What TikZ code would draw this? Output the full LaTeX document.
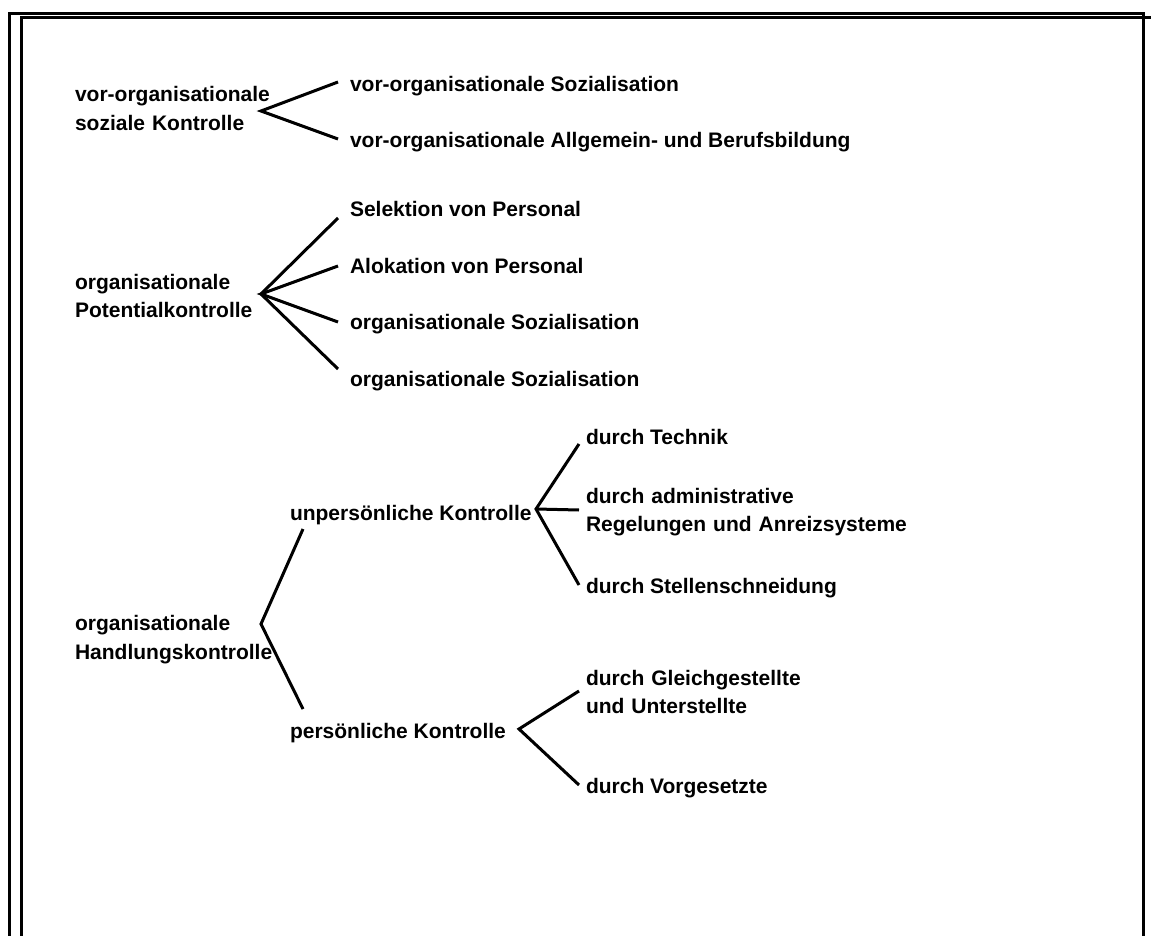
\documentclass[tikz,border=0pt]{standalone}
\usepackage{fontspec}
\setmainfont{Liberation Sans}
\begin{document}
\begin{tikzpicture}[x=1pt, y=-1pt,
  every node/.style={inner sep=0pt, outer sep=0pt},
  lab/.style={anchor=base west, font=\bfseries\fontsize{21}{28.5}\selectfont},
  lab2/.style={lab, text width=420pt, align=left},
  branch/.style={line width=3pt, line join=miter},
  frame/.style={line width=3pt}]
\useasboundingbox (0,0) rectangle (1151,936);
\clip (0,0) rectangle (1151,936);

% double page frame
\draw[frame] (9,940) -- (9,14) -- (1143,14) -- (1143,940);
\draw[frame] (21,940) -- (21,18) -- (1155,18);

% --- vor-organisationale soziale Kontrolle
\node[lab2] (k1) at (75,102) {vor-organisationale\\soziale Kontrolle};
\node[lab] (r1a) at (350,92) {vor-organisationale Sozialisation};
\node[lab] (r1b) at (350,148) {vor-organisationale Allgemein- und Berufsbildung};
\coordinate (v1) at (261,111);
\coordinate (e1a) at (338,82);
\coordinate (e1b) at (338,139);
\draw[branch] (e1a) -- (v1) -- (e1b);

% --- organisationale Potentialkontrolle
\node[lab2] (k2) at (75,289) {organisationale\\Potentialkontrolle};
\node[lab] (r2a) at (350,217) {Selektion von Personal};
\node[lab] (r2b) at (350,273) {Alokation von Personal};
\node[lab] (r2c) at (350,329) {organisationale Sozialisation};
\node[lab] (r2d) at (350,386) {organisationale Sozialisation};
\coordinate (v2) at (261,294);
\coordinate (e2a) at (338,218);
\coordinate (e2b) at (338,266);
\coordinate (e2c) at (338,322);
\coordinate (e2d) at (338,369);
\draw[branch] (e2a) -- (v2) -- (e2d);
\draw[branch] (e2b) -- (v2) -- (e2c);

% --- organisationale Handlungskontrolle
\node[lab2] (k3) at (75,630.5) {organisationale\\Handlungskontrolle};
\node[lab] (u) at (290,520) {unpersönliche Kontrolle};
\node[lab] (p) at (290,738) {persönliche Kontrolle};
\coordinate (v3) at (261,624);
\coordinate (e3a) at (303,529);
\coordinate (e3b) at (303,709);
\draw[branch] (e3a) -- (v3) -- (e3b);

% unpersönliche Kontrolle
\node[lab] (t1) at (586,444) {durch Technik};
\node[lab2] (t2) at (586,503) {durch administrative\\Regelungen und Anreizsysteme};
\node[lab] (t3) at (586,593) {durch Stellenschneidung};
\coordinate (v4) at (536,509);
\coordinate (e4a) at (579,444);
\coordinate (e4b) at (579,510);
\coordinate (e4c) at (579,585);
\draw[branch] (e4a) -- (v4) -- (e4c);
\draw[branch] (v4) -- (e4b);

% persönliche Kontrolle
\node[lab2] (s1) at (586,685) {durch Gleichgestellte\\und Unterstellte};
\node[lab] (s2) at (586,793) {durch Vorgesetzte};
\coordinate (v5) at (519,729);
\coordinate (e5a) at (579,691);
\coordinate (e5b) at (579,785);
\draw[branch] (e5a) -- (v5) -- (e5b);
\end{tikzpicture}
\end{document}
